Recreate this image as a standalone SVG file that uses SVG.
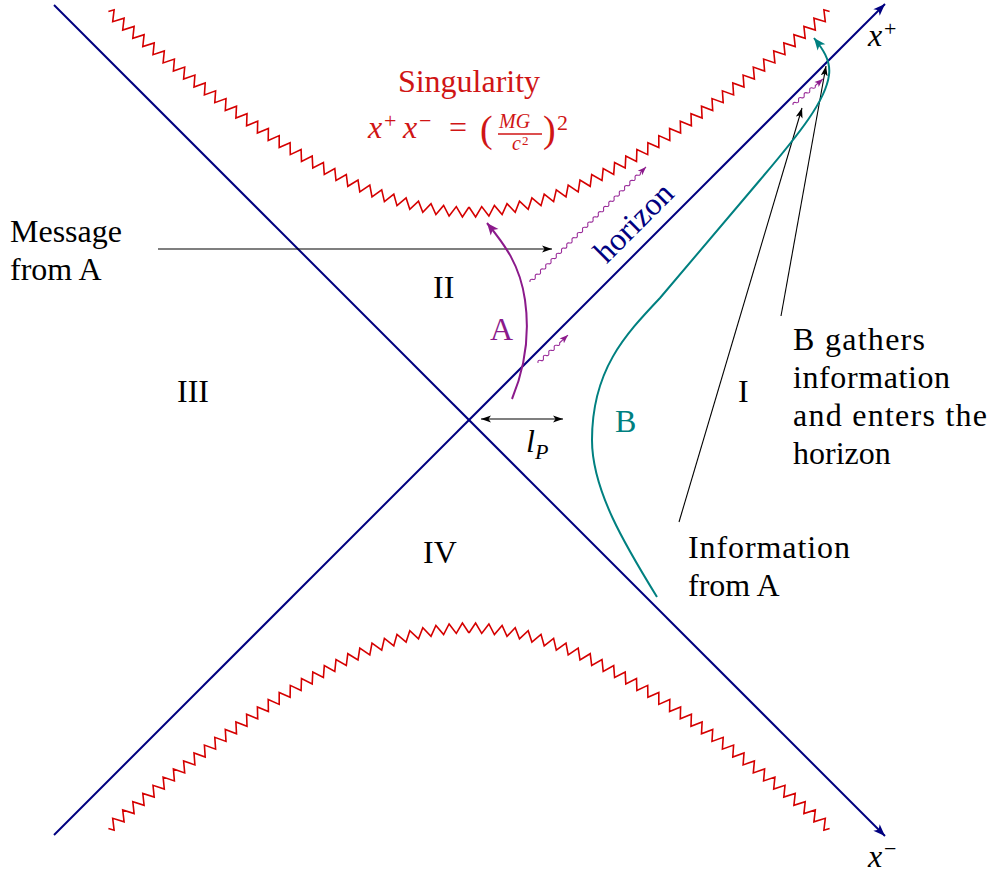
<svg xmlns="http://www.w3.org/2000/svg" width="993" height="875" viewBox="0 0 993 875">
<style>
text { font-family: "Liberation Serif", "Times New Roman", serif; font-size: 32px; fill: #000; }
.it { font-style: italic; }
.red { fill: #d01515; }
.s22 { font-size: 22px; }
.s20 { font-size: 20px; }
.s13 { font-size: 13px; }
.s38 { font-size: 38px; }
.sing { fill: none; stroke: #d50000; stroke-width: 1.6; stroke-linejoin: miter; }
.axis { fill: none; stroke: #000080; stroke-width: 2; }
.thin { fill: none; stroke: #000; stroke-width: 1.1; }
.snake { fill: none; stroke: #9a2d9a; stroke-width: 1.1; }
</style>
<defs>
<marker id="ahNavy" viewBox="-13 -5 14 10" refX="0" refY="0" markerWidth="14" markerHeight="10" markerUnits="userSpaceOnUse" orient="auto"><path d="M0,0 L-12,-4.5 L-9,0 L-12,4.5 Z" fill="#000080"/></marker>
<marker id="ahBlack" viewBox="-10 -4 11 8" refX="0" refY="0" markerWidth="11" markerHeight="8" markerUnits="userSpaceOnUse" orient="auto-start-reverse"><path d="M0,0 L-10,-3.5 L-7.5,0 L-10,3.5 Z" fill="#000"/></marker>
<marker id="ahPurpleS" viewBox="-9 -4 10 8" refX="0" refY="0" markerWidth="10" markerHeight="8" markerUnits="userSpaceOnUse" orient="auto"><path d="M0,0 L-8.5,-3.2 L-6.5,0 L-8.5,3.2 Z" fill="#8b1a8b"/></marker>
<marker id="ahPurple" viewBox="-13 -6 14 12" refX="0" refY="0" markerWidth="14" markerHeight="12" markerUnits="userSpaceOnUse" orient="auto"><path d="M0,0 L-12,-5 L-9,0 L-12,5 Z" fill="#8b1a8b"/></marker>
<marker id="ahTeal" viewBox="-13 -6 14 12" refX="0" refY="0" markerWidth="14" markerHeight="12" markerUnits="userSpaceOnUse" orient="auto"><path d="M0,0 L-12,-5 L-9,0 L-12,5 Z" fill="#008080"/></marker>
<polyline id="zz" class="sing" points="0,213 6.6,203.1 12.7,213.4 19.9,203.9 25.4,214.5 33.1,205.4 38,216.4 46.2,207.7 50.5,218.9 59.2,210.7 62.9,222 72,214.3 75.2,225.8 84.6,218.4 87.3,230.1 97,223.1 99.2,234.8 109.2,228.2 111,240 121.2,233.7 122.7,245.5 133,239.5 134.2,251.4 144.7,245.6 145.6,257.5 156.2,252 156.8,263.9 167.5,258.6 167.9,270.5 178.7,265.4 178.9,277.3 189.8,272.4 189.8,284.4 200.8,279.6 200.6,291.5 211.6,286.9 211.3,298.8 222.4,294.3 222,306.2 233.1,301.9 232.5,313.8 243.7,309.5 243,321.4 254.2,317.3 253.4,329.2 264.6,325.1 263.8,337 275,333 274.1,344.9 285.4,341 284.3,352.9 295.6,349 294.6,360.9 305.9,357.1 304.7,369 316,365.3 314.8,377.1 326.2,373.5 324.9,385.3 336.2,381.7 334.9,393.6 346.3,390 344.9,401.8 356.3,398.3 354.9,410.2 360.6,408.4"/>
</defs>

<g id="singularity-top">
<use href="#zz" transform="translate(469,420) scale(1,-1)"/>
<use href="#zz" transform="translate(469,420) scale(-1,-1)"/>
</g>
<g id="singularity-bottom">
<use href="#zz" transform="translate(469,420)"/>
<use href="#zz" transform="translate(469,420) scale(-1,1)"/>
</g>

<g id="connectors">
<line id="axis-xminus" class="axis" x1="54" y1="5" x2="885" y2="836" marker-end="url(#ahNavy)"/>
<line id="axis-xplus" class="axis" x1="54" y1="835" x2="885" y2="4" marker-end="url(#ahNavy)"/>
<line id="msg-arrow" class="thin" x1="158" y1="249" x2="552" y2="249" marker-end="url(#ahBlack)"/>
<line id="lp-arrow" class="thin" x1="481" y1="419" x2="563" y2="419" marker-start="url(#ahBlack)" marker-end="url(#ahBlack)"/>
<line id="info-arrow" class="thin" x1="679" y1="522" x2="802" y2="108" marker-end="url(#ahBlack)"/>
<line id="gather-arrow" class="thin" x1="781" y1="316" x2="826" y2="66" marker-end="url(#ahBlack)"/>
<path id="worldline-A" d="M512,399 C524,370 530,335 525,300 C520,265 505,245 487,223" fill="none" stroke="#8b1a8b" stroke-width="2" marker-end="url(#ahPurple)"/>
<path id="worldline-B" d="M657,597 C625,545 592,490 592,440 C592,370 625,335 660,298 L760,180 C800,133 826,100 829,75 C831,60 822,48 814,38" fill="none" stroke="#008080" stroke-width="2" marker-end="url(#ahTeal)"/>
<path id="snake-big" class="snake" transform="translate(530,282) rotate(-44.75)" marker-end="url(#ahPurpleS)" d="M0,0 q1.85,-2.6 3.7,0 t3.7,0 t3.7,0 t3.7,0 t3.7,0 t3.7,0 t3.7,0 t3.7,0 t3.7,0 t3.7,0 t3.7,0 t3.7,0 t3.7,0 t3.7,0 t3.7,0 t3.7,0 t3.7,0 t3.7,0 t3.7,0 t3.7,0 t3.7,0 t3.7,0 t3.7,0 t3.7,0 t3.7,0 t3.7,0 t3.7,0 t3.7,0 t3.7,0 t3.7,0 t3.7,0 t3.7,0 t3.7,0 t3.7,0 t3.7,0 t3.7,0 t3.7,0 t3.7,0 t3.7,0 t3.7,0 t3.7,0 t3.7,0 L163.4,0"/>
<path id="snake-small1" class="snake" transform="translate(538,363) rotate(-43)" marker-end="url(#ahPurpleS)" d="M0,0 q1.85,-2.8 3.7,0 t3.7,0 t3.7,0 t3.7,0 t3.7,0 t3.7,0 t3.7,0 t3.7,0 L41,0"/>
<path id="snake-small2" class="snake" transform="translate(793,105) rotate(-41)" marker-end="url(#ahPurpleS)" d="M0,0 q1.85,-2.8 3.7,0 t3.7,0 t3.7,0 t3.7,0 t3.7,0 t3.7,0 t3.7,0 t3.7,0 L39.7,0"/>
</g>

<g id="singularity-label">
<text class="red" x="469" y="92" text-anchor="middle">Singularity</text>
<text class="red it" x="368" y="138">x</text>
<text class="red s22" x="384" y="128">+</text>
<text class="red it" x="403" y="138">x</text>
<text class="red s22" x="419" y="128">−</text>
<text class="red" x="449" y="138">=</text>
<text class="red s38" x="480" y="142">(</text>
<text class="red it s20" x="499" y="127.5">MG</text>
<line x1="498" y1="134" x2="542" y2="134" stroke="#d01515" stroke-width="1.3"/>
<text class="red it s20" x="512" y="150">c</text>
<text class="red s13" x="522" y="144.5">2</text>
<text class="red s38" x="543" y="142">)</text>
<text class="red s22" x="557" y="130">2</text>
</g>

<g id="axis-labels">
<g id="label-xplus"><text class="it" x="868" y="46">x</text><text class="s22" x="884" y="36">+</text></g>
<g id="label-xminus"><text class="it" x="868" y="867">x</text><text class="s22" x="884" y="856">−</text></g>
<g id="label-horizon"><text style="fill:#000080" transform="translate(641,230) rotate(-45)" text-anchor="middle">horizon</text></g>
</g>

<g id="regions">
<g id="region-I"><text x="738" y="402">I</text></g>
<g id="region-II"><text x="433" y="298">II</text></g>
<g id="region-III"><text x="177" y="402">III</text></g>
<g id="region-IV"><text x="423" y="563">IV</text></g>
</g>

<g id="label-A"><text x="490" y="340" style="fill:#8b1a8b">A</text></g>
<g id="label-B"><text x="615" y="432" style="fill:#008080">B</text></g>
<g id="label-lP"><text class="it" x="526" y="452">l</text><text class="it s22" x="535" y="459">P</text></g>

<g id="label-message">
<text x="10" y="242">Message</text>
<text x="10" y="280">from A</text>
</g>
<g id="label-gathers">
<text x="793" y="350" textLength="132">B gathers</text>
<text x="793" y="388" textLength="157">information</text>
<text x="793" y="426" textLength="194">and enters the</text>
<text x="793" y="464">horizon</text>
</g>
<g id="label-info">
<text x="688" y="558" textLength="162">Information</text>
<text x="688" y="596">from A</text>
</g>
</svg>
